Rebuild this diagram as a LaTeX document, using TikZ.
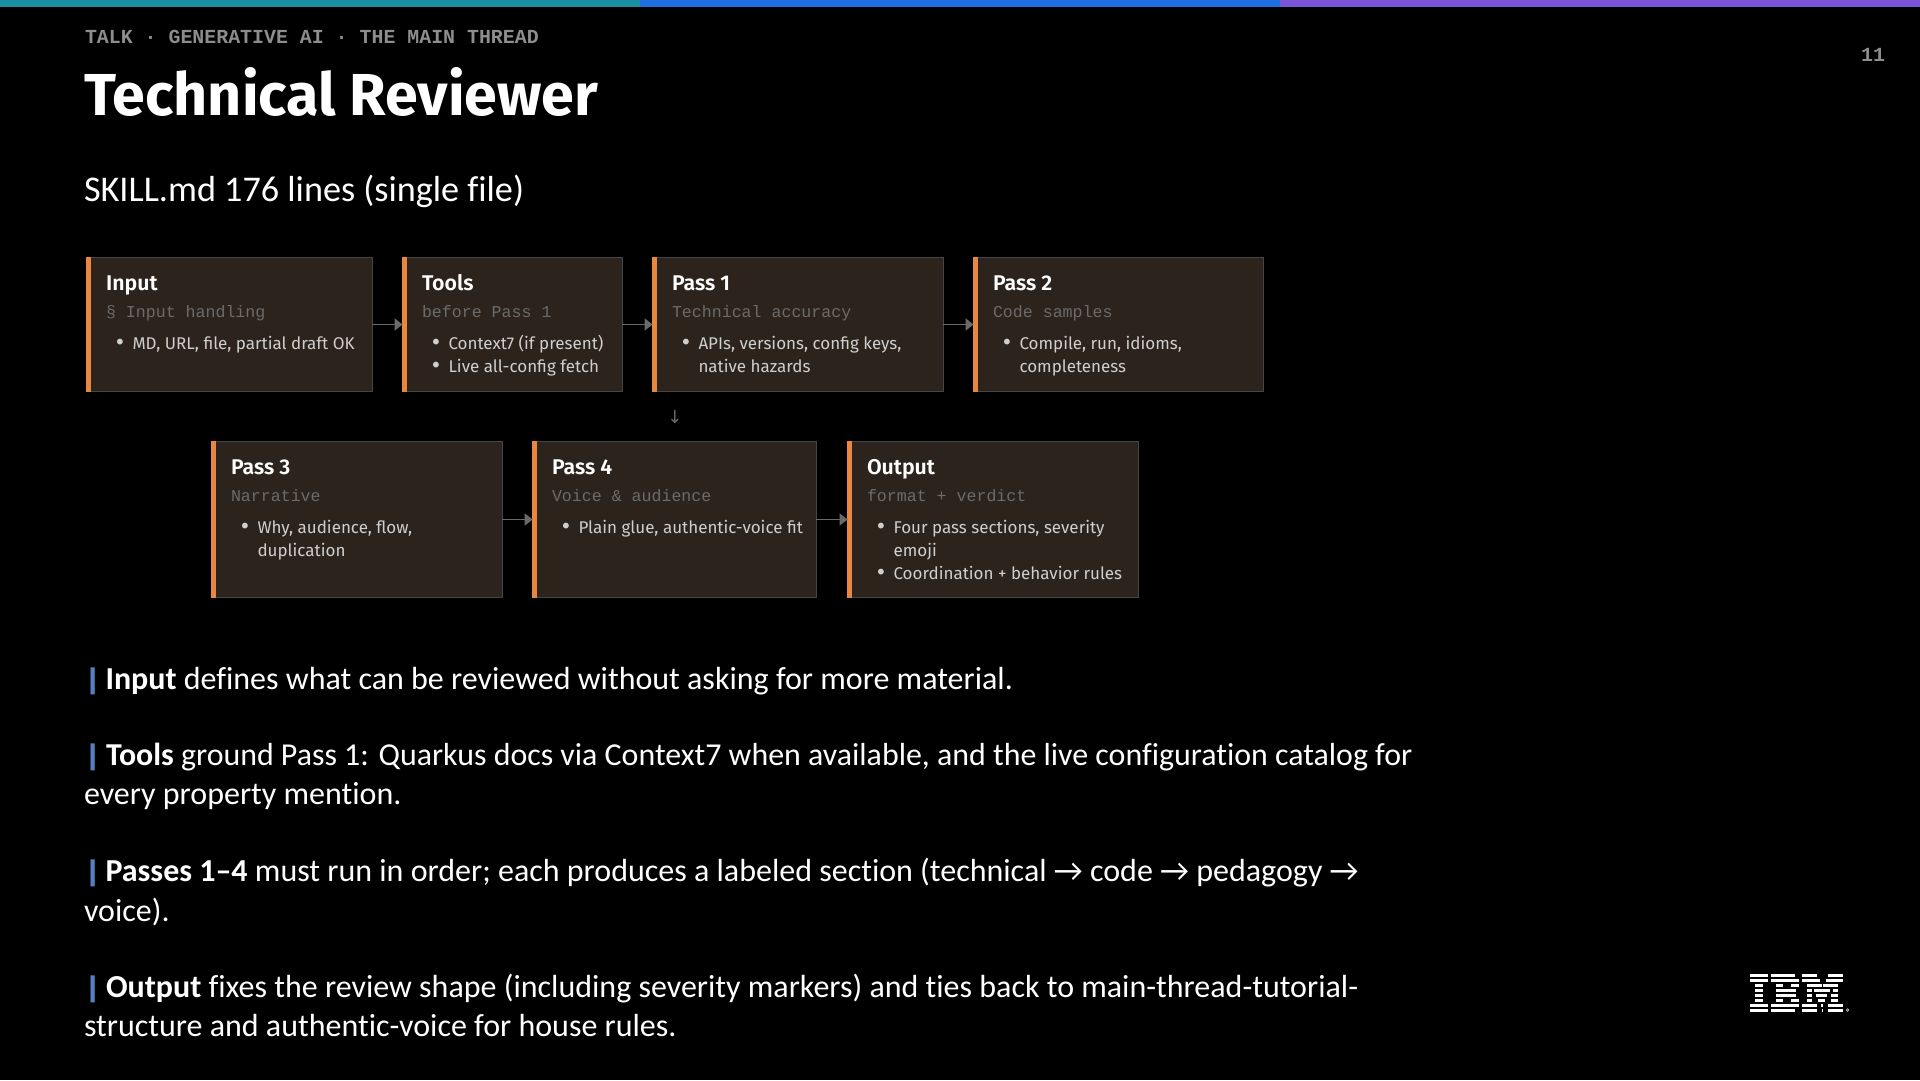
\documentclass[tikz,border=0pt]{standalone}
\usepackage{fontspec}
\usetikzlibrary{arrows.meta}
\setmainfont[Ligatures=NoCommon]{Carlito}
\newfontfamily\plexlike{Fira Sans}
\newfontfamily\plexsemi{Fira Sans SemiBold}
\newfontfamily\monolike{Liberation Mono}
\newfontfamily\symfont{DejaVu Sans}
\newfontfamily\barfont[FakeStretch=1.9]{DejaVu Sans}
\definecolor{tealbar}{HTML}{1A8FA3}
\definecolor{bluebar}{HTML}{1F6FE0}
\definecolor{purplebar}{HTML}{7A55D8}
\definecolor{cardfill}{HTML}{2B231C}
\definecolor{cardline}{HTML}{454545}
\definecolor{accent}{HTML}{E8873F}
\definecolor{subgrey}{HTML}{6B6B6B}
\definecolor{bulgrey}{HTML}{CFCFCF}
\definecolor{flowgrey}{HTML}{6A6A6A}
\definecolor{headgrey}{HTML}{8D8D8D}
\definecolor{barblue}{HTML}{5580BE}
\tikzset{
  txt/.style={inner sep=0pt,outer sep=0pt,anchor=base west,text=white},
  card/.style={draw=cardline,fill=cardfill,line width=1.2pt,inner sep=0pt,outer sep=0pt,anchor=north west},
  cardtitle/.style={txt,font=\plexsemi\fontsize{21.3}{24}\selectfont},
  cardsub/.style={txt,text=subgrey,font=\monolike\fontsize{16.6}{20}\selectfont},
  cardbul/.style={txt,text=bulgrey,font=\plexlike\fontsize{17}{20}\selectfont},
  carddot/.style={txt,anchor=base,text=bulgrey,font=\symfont\fontsize{20}{20}\selectfont},
  bodytxt/.style={txt,font=\fontsize{32}{38}\selectfont},
  barmark/.style={txt,text=barblue,font=\barfont\fontsize{27}{30}\selectfont},
  flow/.style={draw=flowgrey,line width=1.7pt,-{Triangle[width=12pt,length=8pt]}},
}
\newcommand{\cardbox}[7]{% id, x, y, w, h, title, sub
  \pgfmathsetmacro{\cw}{#4-1.2}\pgfmathsetmacro{\ch}{#5-1.2}
  \node[card,minimum width=\cw pt,minimum height=\ch pt] (#1) at ({#2+0.6},{#3+0.6}) {};
  \fill[accent] ([xshift=-0.6pt,yshift=0.6pt]#1.north west) rectangle ([xshift=4.6pt,yshift=-0.6pt]#1.south west);
  \node[cardtitle] (#1t) at ({#2+20},{#3+33.5}) {#6};
  \node[cardsub] (#1s) at ({#2+20},{#3+60}) {#7};
}
\newcommand{\cardbul}[5]{% id, x, y, hasdot, text
  \ifnum#4=1 \node[carddot] (#1d) at ({#2+34},#3) {•};\fi
  \node[cardbul] (#1) at ({#2+46.5},#3) {#5};
}
\begin{document}
\begin{tikzpicture}[x=1pt,y=-1pt]
\useasboundingbox (0,0) rectangle (1920,1080);
\fill[black] (0,0) rectangle (1920,1080);
\fill[tealbar] (0,0) rectangle (640,7);
\fill[bluebar] (640,0) rectangle (1280,7);
\fill[purplebar] (1280,0) rectangle (1920,7);

\node[txt,text=headgrey,font=\monolike\bfseries\fontsize{19.9}{24}\selectfont] (head) at (85,43) {TALK · GENERATIVE AI · THE MAIN THREAD};
\node[txt,font=\plexlike\bfseries\fontsize{59.2}{64}\selectfont] (title) at (84,115) {Technical Reviewer};
\node[txt,font=\fontsize{36.2}{42}\selectfont] (subtitle) at (84,201) {SKILL.md 176 lines (single file)};
\node[txt,anchor=base east,text=headgrey,font=\monolike\bfseries\fontsize{20}{24}\selectfont] (pagenum) at (1885,61) {11};

\cardbox{input}{86}{257}{287}{135}{Input}{§ Input handling}
\cardbul{inputa}{86}{349}{1}{MD, URL, file, partial draft OK}
\cardbox{tools}{402}{257}{221}{135}{Tools}{before Pass 1}
\cardbul{toolsa}{402}{349}{1}{Context7 (if present)}
\cardbul{toolsb}{402}{372}{1}{Live all-config fetch}
\cardbox{passa}{652}{257}{292}{135}{Pass 1}{Technical accuracy}
\cardbul{passaa}{652}{349}{1}{APIs, versions, config keys,}
\cardbul{passab}{652}{372}{0}{native hazards}
\cardbox{passb}{973}{257}{291}{135}{Pass 2}{Code samples}
\cardbul{passba}{973}{349}{1}{Compile, run, idioms,}
\cardbul{passbb}{973}{372}{0}{completeness}

\cardbox{passc}{211}{441}{292}{157}{Pass 3}{Narrative}
\cardbul{passca}{211}{533}{1}{Why, audience, flow,}
\cardbul{passcb}{211}{556}{0}{duplication}
\cardbox{passd}{532}{441}{285}{157}{Pass 4}{Voice \& audience}
\cardbul{passda}{532}{533}{1}{Plain glue, authentic-voice fit}
\cardbox{output}{847}{441}{292}{157}{Output}{format + verdict}
\cardbul{outputa}{847}{533}{1}{Four pass sections, severity}
\cardbul{outputb}{847}{556}{0}{emoji}
\cardbul{outputc}{847}{579}{1}{Coordination + behavior rules}

\draw[flow] (input) -- (tools);
\draw[flow] (tools) -- (passa);
\draw[flow] (passa) -- (passb);
\draw[flow] (passc) -- (passd);
\draw[flow] (passd) -- (output);
\node[txt,anchor=center,text=flowgrey,font=\symfont\fontsize{18}{20}\selectfont] (down) at (675,417) {↓};

\node[barmark] (ba) at (84,688) {|};
\node[bodytxt] (la) at (105.5,689) {\textbf{Input} defines what can be reviewed without asking for more material.};
\node[barmark] (bb) at (84,764) {|};
\node[bodytxt,font=\fontsize{31.9}{38}\selectfont] (lb) at (106,765) {\textbf{Tools} ground Pass 1: Quarkus docs via Context7 when available, and the live configuration catalog for};
\node[bodytxt] (lc) at (84,804) {every property mention.};
\node[barmark] (bd) at (84,880) {|};
\node[bodytxt] (ld) at (105.5,881) {\textbf{Passes 1–4} must run in order; each produces a labeled section (technical → code → pedagogy →};
\node[bodytxt] (le) at (84,921) {voice).};
\node[barmark] (bf) at (84,996) {|};
\node[bodytxt] (lf) at (106,997) {\textbf{Output} fixes the review shape (including severity markers) and ties back to main-thread-tutorial-};
\node[bodytxt] (lg) at (84,1036) {structure and authentic-voice for house rules.};

% IBM logo
\begin{scope}[shift={(1720,950)},x=0.3333pt,y=-0.3333pt]
\foreach \ya/\yb/\segs in {
 72/80/{90/145,152/225,245/292,325/370},
 87/95/{90/145,152/237,245/300,318/370},
 103/110/{105/130,168/190,213/237,260/307,310/355},
 118/125/{105/130,168/228,260/275,282/330,340/355},
 133/140/{105/130,168/228,260/275,288/322,332/355},
 148/155/{105/130,168/190,213/237,260/275,295/315,332/355},
 163/170/{90/145,152/237,245/290,302/310,325/370},
 178/186/{90/145,152/225,245/290,305/308,325/370}}{
  \foreach \xa/\xb in \segs { \fill[white] (\xa,\ya) rectangle (\xb,\yb); }
}
\draw[white!80!black,line width=0.6pt] (383,180) circle (4);
\end{scope}
\end{tikzpicture}
\end{document}
